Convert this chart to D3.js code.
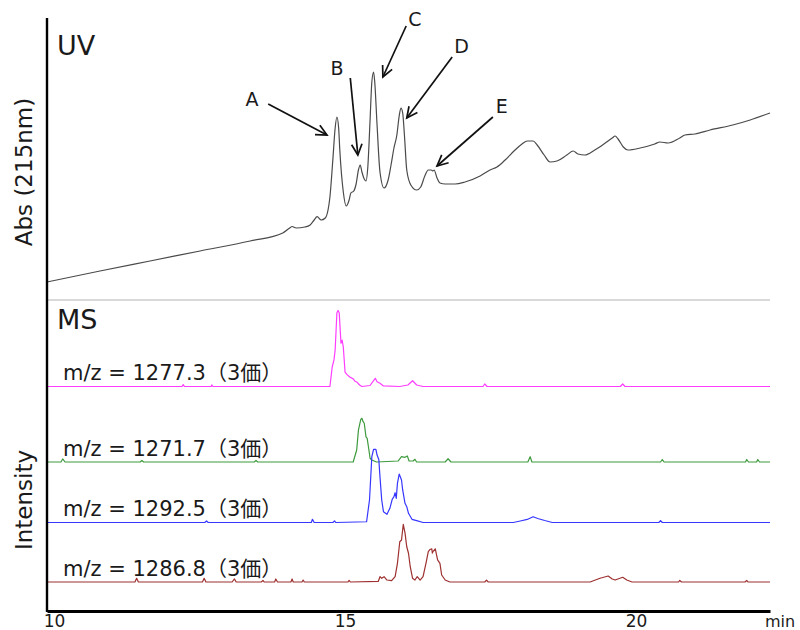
<!DOCTYPE html>
<html>
<head>
<meta charset="utf-8">
<script src="https://cdn.jsdelivr.net/npm/d3@7"></script>
<style>
  html, body { margin: 0; padding: 0; background: #fff; }
  svg { display: block; }
  text { font-family: "DejaVu Sans", "Noto Sans CJK JP", sans-serif; fill: #1a1a1a; }
</style>
</head>
<body>
<svg id="chart" width="800" height="630"></svg>
<script>
// ---- UV trace (215 nm), retention time in min, absorbance in mAU ----
const uvTime = [9.88, 10.79, 11.65, 12.51, 13.37, 13.93, 14.05, 14.09, 14.16, 14.31, 14.40, 14.47, 14.52, 14.59, 14.66,
  14.74, 14.79, 14.83, 14.86, 14.89, 14.91, 14.97, 15.02, 15.07, 15.10, 15.15, 15.19, 15.23, 15.26, 15.29, 15.33, 15.36,
  15.39, 15.43, 15.46, 15.49, 15.51, 15.55, 15.60, 15.67, 15.74, 15.79, 15.84, 15.89, 15.93, 15.96, 15.99, 16.02, 16.06,
  16.13, 16.23, 16.30, 16.37, 16.43, 16.48, 16.51, 16.53, 16.58, 16.63, 16.72, 16.89, 17.06, 17.32, 17.49, 17.61, 17.75,
  17.92, 18.04, 18.13, 18.23, 18.30, 18.42, 18.52, 18.64, 18.81, 18.92, 19.00, 19.12, 19.29, 19.47, 19.59, 19.64, 19.69,
  19.78, 19.86, 20.07, 20.32, 20.41, 20.55, 20.75, 20.84, 21.01, 21.27, 21.66, 21.96, 22.30];
const uvAbs = [18, 29, 39, 49, 59, 67, 72, 73.5, 72, 73, 75, 80, 83.3, 80, 82,
  103, 140, 172, 183, 172, 150, 108, 94, 100, 107, 109, 116, 130, 135, 128, 121, 119,
  132, 180, 218, 228, 218, 175, 128, 112, 120, 135, 152, 165, 184, 192, 187, 165, 130,
  115, 110, 113, 124, 130, 130, 129, 130, 122, 117, 116, 116, 118, 124, 130, 133, 140,
  150, 156, 159, 159, 155, 145, 138, 139, 145, 149, 146, 145, 150, 157, 162, 164, 161,
  153, 150, 152, 156, 158, 157, 162, 165, 166, 170, 175, 180, 187];

// ---- Peak labels on the UV trace ----
const peakLabels = ["A", "B", "C", "D", "E"];

// ---- Extracted ion chromatograms (relative intensity, %) ----
const msLabels = ["m/z = 1277.3（3価）", "m/z = 1271.7（3価）", "m/z = 1292.5（3価）", "m/z = 1286.8（3価）"];

const ms1277Time = [9.88, 12.20, 12.22, 12.24, 12.70, 12.71, 12.73, 14.74, 14.78, 14.81, 14.83, 14.86, 14.88, 14.90, 14.93,
  14.95, 14.97, 15.00, 15.03, 15.08, 15.14, 15.17, 15.20, 15.25, 15.29, 15.43, 15.49, 15.52, 15.55, 15.60, 15.66, 15.94,
  16.08, 16.16, 16.23, 16.34, 17.37, 17.40, 17.44, 19.73, 19.77, 19.81, 22.30];
const ms1277Int = [0, 0, 2.6, 0, 0, 2, 0, 0, 26, 35, 48, 97, 100, 97, 57,
  61, 52, 19, 16, 12.5, 10, 7, 6, 2, 0, 1.3, 7.6, 10.8, 6.3, 4.2, 0.7, 0,
  2, 7.6, 2, 0, 0, 3.3, 0, 0, 3.3, 0, 0];

const ms1271Time = [9.88, 10.12, 10.15, 10.19, 11.48, 11.51, 11.54, 13.44, 13.47, 13.50, 15.14, 15.20, 15.23, 15.27, 15.29,
  15.31, 15.33, 15.36, 15.38, 15.41, 15.43, 15.46, 15.54, 15.91, 15.97, 16.03, 16.07, 16.10, 16.17, 16.20, 16.23, 16.72,
  16.77, 16.82, 18.14, 18.18, 18.21, 20.42, 20.45, 20.48, 21.88, 21.90, 21.93, 22.07, 22.09, 22.12, 22.30];
const ms1271Int = [0, 0, 4, 0, 0, 2, 0, 0, 2, 0, 0, 15.8, 42, 56, 57.5,
  53, 51, 33, 31, 15.8, 4.9, 2.6, 0, 1.3, 7, 6.2, 7.9, 1.3, 1.3, 3.6, 0, 0,
  4.3, 0, 0, 7, 0, 0, 3.3, 0, 0, 3.3, 0, 0, 3.3, 0, 0];

const ms1292Time = [9.88, 12.59, 12.62, 12.65, 14.42, 14.44, 14.47, 14.79, 14.82, 14.84, 15.37, 15.42, 15.46, 15.49, 15.53,
  15.55, 15.58, 15.60, 15.63, 15.66, 15.72, 15.77, 15.81, 15.84, 15.86, 15.88, 15.90, 15.93, 15.97, 15.99, 16.03, 16.06,
  16.09, 16.15, 16.23, 16.34, 17.89, 18.01, 18.13, 18.23, 18.31, 18.43, 18.56, 20.39, 20.42, 20.45, 22.30];
const ms1292Int = [0, 0, 2, 0, 0, 4.2, 0, 0, 2, 0, 1, 29.6, 86.6, 96.3, 96.3,
  88.8, 83, 60.3, 29.6, 14.2, 10.8, 18.7, 30.5, 34, 39.2, 31.8, 51.6, 63.8, 55.9, 42.8, 25.3, 20.8,
  12.1, 4.2, 2.4, 0, 0, 2, 4, 7.6, 5.3, 2.6, 0, 0, 2.6, 0, 0];

const ms1286Time = [9.88, 11.39, 11.42, 11.45, 12.55, 12.58, 12.61, 13.06, 13.10, 13.13, 13.56, 13.59, 13.61, 13.79, 13.81,
  13.84, 14.07, 14.09, 14.11, 14.26, 14.28, 14.30, 15.05, 15.07, 15.09, 15.57, 15.60, 15.63, 15.67, 15.72, 15.80, 15.86,
  15.90, 15.94, 15.97, 16.00, 16.03, 16.06, 16.09, 16.12, 16.16, 16.20, 16.24, 16.29, 16.34, 16.39, 16.43, 16.46, 16.49,
  16.50, 16.51, 16.55, 16.59, 16.63, 16.66, 16.72, 16.80, 17.40, 17.43, 17.46, 19.21, 19.38, 19.52, 19.59, 19.64, 19.71,
  19.77, 19.84, 19.93, 20.73, 20.75, 20.78, 21.87, 21.90, 21.92, 22.30];
const ms1286Int = [0, 0, 4.9, 0, 0, 4.9, 0, 0, 4, 0, 0, 2, 0, 0, 4,
  0, 0, 4, 0, 0, 2.6, 0, 0, 2, 0, 0.7, 7, 4.9, 7, 2.6, 1.7, 7,
  24.6, 53, 55.3, 75.7, 64.7, 46.4, 37.8, 20.1, 4.9, 2.6, 7, 2.6, 7, 24.6, 39.9, 42.8, 43.7,
  38, 40, 43.7, 29, 24.6, 9.2, 2.6, 0, 0, 2.6, 0, 0, 4.9, 7.9, 4, 2.6, 4.6,
  6.2, 2.6, 0, 0, 2, 0, 0, 2, 0, 0];

const xTickValues = [10, 15, 20];

// ---- Layout ----
const svg = d3.select("#chart");
const x = d3.scaleLinear().domain([9.88, 22.3]).range([47, 770]);
const yUV = d3.scaleLinear().domain([0, 280]).range([300, 20]);
const yMS = d3.scaleLinear().domain([0, 100]).range([0, 76]);   // intensity -> pixel height
const msBase = [386.5, 462, 522.5, 582];
const msColors = ["#ff3dff", "#3d9a3d", "#3636ff", "#9e3030"];
const msSeries = [
  [ms1277Time, ms1277Int],
  [ms1271Time, ms1271Int],
  [ms1292Time, ms1292Int],
  [ms1286Time, ms1286Int]
];

// divider between UV and MS panels
svg.append("line")
  .attr("x1", 47).attr("x2", 770).attr("y1", 300).attr("y2", 300)
  .attr("stroke", "#d9d9d9").attr("stroke-width", 2);

// UV chromatogram
const uvLine = d3.line().x(d => x(d[0])).y(d => yUV(d[1])).curve(d3.curveMonotoneX);
svg.append("path")
  .datum(d3.zip(uvTime, uvAbs))
  .attr("d", uvLine)
  .attr("fill", "none").attr("stroke", "#4a4a4a").attr("stroke-width", 1.2);

// extracted ion chromatograms
msSeries.forEach((s, i) => {
  const line = d3.line().x(d => x(d[0])).y(d => msBase[i] - yMS(d[1])).curve(d3.curveLinear);
  svg.append("path")
    .datum(d3.zip(s[0], s[1]))
    .attr("d", line)
    .attr("fill", "none").attr("stroke", msColors[i]).attr("stroke-width", 1.2)
    .attr("stroke-linejoin", "round");
  svg.append("text")
    .attr("x", 63).attr("y", msBase[i] - 6.5)
    .attr("font-size", 21)
    .text(msLabels[i]);
});

// peak annotations: label anchor, arrow tail and arrow tip in (min, mAU)
const annot = [
  { text: [13.40, 194], tail: [13.68, 196], tip: [14.69, 165] },
  { text: [14.86, 225], tail: [15.09, 222], tip: [15.22, 145] },
  { text: [16.20, 274], tail: [16.05, 274], tip: [15.65, 223] },
  { text: [17.00, 247], tail: [16.84, 243], tip: [16.06, 182] },
  { text: [17.69, 187], tail: [17.54, 183], tip: [16.58, 134] }
];
const g = svg.append("g");
annot.forEach((a, i) => {
  const x1 = x(a.tail[0]), y1 = yUV(a.tail[1]);
  const x2 = x(a.tip[0]), y2 = yUV(a.tip[1]);
  const ang = Math.atan2(y2 - y1, x2 - x1);
  const hl = 12, spread = 0.45;
  g.append("line").attr("x1", x1).attr("y1", y1).attr("x2", x2).attr("y2", y2)
    .attr("stroke", "#111").attr("stroke-width", 1.7);
  g.append("path")
    .attr("d", `M${x2 - hl * Math.cos(ang - spread)},${y2 - hl * Math.sin(ang - spread)}L${x2},${y2}L${x2 - hl * Math.cos(ang + spread)},${y2 - hl * Math.sin(ang + spread)}`)
    .attr("fill", "none").attr("stroke", "#111").attr("stroke-width", 1.7);
  g.append("text")
    .attr("x", x(a.text[0])).attr("y", yUV(a.text[1]))
    .attr("text-anchor", "middle").attr("font-size", 19)
    .text(peakLabels[i]);
});

// panel titles
svg.append("text").attr("x", 57).attr("y", 55).attr("font-size", 27).text("UV");
svg.append("text").attr("x", 57).attr("y", 329).attr("font-size", 27).text("MS");

// y-axis titles
svg.append("text").attr("transform", "translate(32,172) rotate(-90)")
  .attr("text-anchor", "middle").attr("font-size", 23).text("Abs (215nm)");
svg.append("text").attr("transform", "translate(32,500) rotate(-90)")
  .attr("text-anchor", "middle").attr("font-size", 23).text("Intensity");

// left axis line
svg.append("line").attr("x1", 47).attr("x2", 47).attr("y1", 18).attr("y2", 612)
  .attr("stroke", "#000").attr("stroke-width", 2.4);

// time axis
const xAxis = d3.axisBottom(x).tickValues(xTickValues).tickSize(0).tickSizeOuter(0).tickPadding(4);
const ax = svg.append("g").attr("transform", "translate(0,611)").call(xAxis);
ax.select(".domain").attr("stroke", "#000").attr("stroke-width", 2.8);
ax.selectAll(".tick text")
  .attr("font-size", 17).attr("font-family", "DejaVu Sans").attr("fill", "#1a1a1a")
  .attr("dy", "0.72em");
svg.append("text").attr("x", 765).attr("y", 627).attr("font-size", 16).text("min");
</script>
</body>
</html>
